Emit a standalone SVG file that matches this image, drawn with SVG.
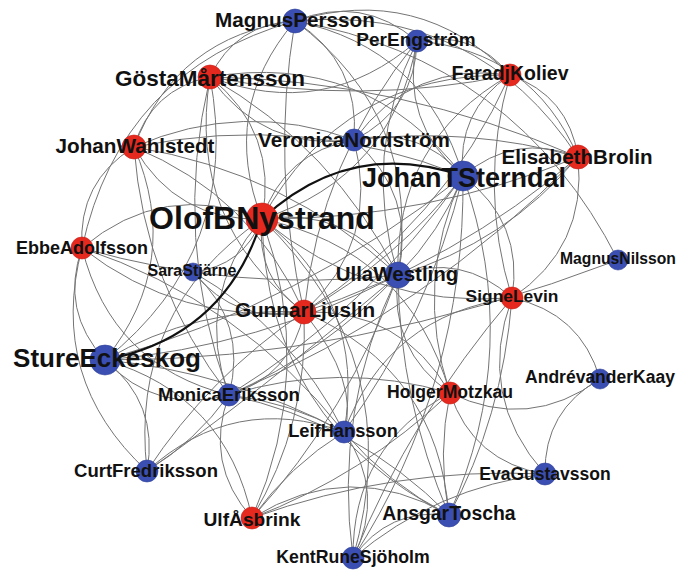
<svg xmlns="http://www.w3.org/2000/svg" width="678" height="570" viewBox="0 0 678 570">
<style>
.e{fill:none;stroke:#747474;stroke-width:1}
.tk{fill:none;stroke:#111;stroke-width:2.2}
.r{fill:#e6291f;stroke:#c81e16;stroke-width:0.6}
.b{fill:#3b4fb3;stroke:#2d3f98;stroke-width:0.6}
text{font-family:"Liberation Sans",Arial,sans-serif;font-weight:bold;fill:#111;text-anchor:middle}
</style>
<rect width="678" height="570" fill="#fff"/>
<g id="edges">
<path class="e" d="M262,219 Q219.1,110.1 295,21"/>
<path class="e" d="M262,219 Q278.6,132.4 210,77"/>
<path class="e" d="M262,219 Q176.4,221.4 134,147"/>
<path class="e" d="M262,219 Q284.3,151.9 354,140"/>
<path class="e" d="M262,219 Q392.9,176.5 417,41"/>
<path class="e" d="M262,219 Q342.8,72.6 510,75"/>
<path class="e" d="M262,219 Q426.2,219.6 578,157"/>
<path class="e" d="M262,219 Q346.8,206.2 398,275"/>
<path class="e" d="M262,219 Q255.1,278.1 304,312"/>
<path class="e" d="M262,219 Q371.2,308.5 512,298"/>
<path class="e" d="M262,219 Q408.2,249.6 450,393"/>
<path class="e" d="M262,219 Q366.9,300.9 344,432"/>
<path class="e" d="M262,219 Q192.7,297.1 229,395"/>
<path class="e" d="M262,219 Q316.8,370.5 252,518"/>
<path class="e" d="M262,219 Q266.7,423.1 449,515"/>
<path class="e" d="M262,219 Q409.2,361.2 353,558"/>
<path class="e" d="M262,219 Q243.4,266.2 193,272"/>
<path class="e" d="M262,219 Q163.3,179.5 82,248"/>
<path class="e" d="M262,219 Q128.9,310.5 147,471"/>
<path class="e" d="M463,176 Q425.5,48.1 295,21"/>
<path class="e" d="M463,176 Q399.5,122.3 417,41"/>
<path class="e" d="M463,176 Q456.2,111.4 510,75"/>
<path class="e" d="M463,176 Q514.8,132 578,157"/>
<path class="e" d="M463,176 Q419.3,125.3 354,140"/>
<path class="e" d="M463,176 Q366.2,50.6 210,77"/>
<path class="e" d="M463,176 Q302.8,112.2 134,147"/>
<path class="e" d="M463,176 Q440.4,232 398,275"/>
<path class="e" d="M463,176 Q397.1,259.9 304,312"/>
<path class="e" d="M463,176 Q367.9,308.9 229,395"/>
<path class="e" d="M463,176 Q302.4,303.8 105,360"/>
<path class="e" d="M463,176 Q524.1,222.3 512,298"/>
<path class="e" d="M463,176 Q523.8,348.3 449,515"/>
<path class="e" d="M463,176 Q465.3,383.5 353,558"/>
<path class="e" d="M463,176 Q413.1,281.9 450,393"/>
<path class="e" d="M463,176 Q429.1,315.9 344,432"/>
<path class="e" d="M295,21 Q235.7,23.5 210,77"/>
<path class="e" d="M295,21 Q176.7,35.7 134,147"/>
<path class="e" d="M295,21 Q360.2,62.8 354,140"/>
<path class="e" d="M295,21 Q362,-5.6 417,41"/>
<path class="e" d="M295,21 Q418.7,-16.5 510,75"/>
<path class="e" d="M295,21 Q477.3,4.1 578,157"/>
<path class="e" d="M295,21 Q422.7,117.1 398,275"/>
<path class="e" d="M295,21 Q120.4,70.6 82,248"/>
<path class="e" d="M295,21 Q516.3,59.8 618,260"/>
<path class="e" d="M295,21 Q270.4,167.4 304,312"/>
<path class="e" d="M417,41 Q324.3,121.1 210,77"/>
<path class="e" d="M417,41 Q473.7,30.1 510,75"/>
<path class="e" d="M417,41 Q532.3,50.7 578,157"/>
<path class="e" d="M417,41 Q415.2,109.4 354,140"/>
<path class="e" d="M417,41 Q360.7,154.2 398,275"/>
<path class="e" d="M417,41 Q319.9,159.6 304,312"/>
<path class="e" d="M210,77 Q359.8,106 510,75"/>
<path class="e" d="M210,77 Q402,80.2 578,157"/>
<path class="e" d="M210,77 Q263.1,151.7 354,140"/>
<path class="e" d="M210,77 Q151,89.2 134,147"/>
<path class="e" d="M210,77 Q186.5,222.7 304,312"/>
<path class="e" d="M210,77 Q242.4,250 105,360"/>
<path class="e" d="M210,77 Q333.7,147.8 398,275"/>
<path class="e" d="M210,77 Q171.8,238.9 229,395"/>
<path class="e" d="M510,75 Q568.6,95.6 578,157"/>
<path class="e" d="M510,75 Q412.5,60.7 354,140"/>
<path class="e" d="M510,75 Q394,141.4 398,275"/>
<path class="e" d="M510,75 Q442.6,224.4 304,312"/>
<path class="e" d="M510,75 Q477.6,186.8 512,298"/>
<path class="e" d="M578,157 Q467.7,126.1 354,140"/>
<path class="e" d="M578,157 Q587.3,247.3 512,298"/>
<path class="e" d="M578,157 Q505.7,243 398,275"/>
<path class="e" d="M578,157 Q456.5,261.9 304,312"/>
<path class="e" d="M578,157 Q427.3,310.9 229,395"/>
<path class="e" d="M134,147 Q242.6,99.5 354,140"/>
<path class="e" d="M134,147 Q77.7,181.9 82,248"/>
<path class="e" d="M134,147 Q252,195.5 304,312"/>
<path class="e" d="M134,147 Q183.4,262.2 105,360"/>
<path class="e" d="M134,147 Q285.2,171.4 398,275"/>
<path class="e" d="M134,147 Q144.3,285.3 229,395"/>
<path class="e" d="M82,248 Q59.9,310.9 105,360"/>
<path class="e" d="M82,248 Q47.6,379 147,471"/>
<path class="e" d="M82,248 Q111.4,365.6 229,395"/>
<path class="e" d="M82,248 Q237.3,293.1 398,275"/>
<path class="e" d="M82,248 Q180.2,324.4 304,312"/>
<path class="e" d="M82,248 Q240.6,300.7 344,432"/>
<path class="e" d="M105,360 Q156.5,414.7 229,395"/>
<path class="e" d="M105,360 Q231.7,372.1 344,432"/>
<path class="e" d="M105,360 Q159.3,402.9 147,471"/>
<path class="e" d="M105,360 Q197.3,306.2 304,312"/>
<path class="e" d="M105,360 Q260,346.8 398,275"/>
<path class="e" d="M105,360 Q225.9,394.9 252,518"/>
<path class="e" d="M105,360 Q351.5,361.3 618,260"/>
<path class="e" d="M193,272 Q236.5,325.3 304,312"/>
<path class="e" d="M193,272 Q292.5,329.4 344,432"/>
<path class="e" d="M193,272 Q247.9,322.7 229,395"/>
<path class="e" d="M229,395 Q195.6,441.2 147,471"/>
<path class="e" d="M229,395 Q203.6,463.4 252,518"/>
<path class="e" d="M229,395 Q290.2,402 344,432"/>
<path class="e" d="M229,395 Q291.4,376 304,312"/>
<path class="e" d="M229,395 Q339.2,360.9 450,393"/>
<path class="e" d="M147,471 Q233.8,392.4 344,432"/>
<path class="e" d="M147,471 Q252.9,398.1 398,275"/>
<path class="e" d="M147,471 Q209.6,375.8 304,312"/>
<path class="e" d="M252,518 Q308.9,422.8 304,312"/>
<path class="e" d="M252,518 Q289.4,465.8 344,432"/>
<path class="e" d="M252,518 Q349.6,457.4 449,515"/>
<path class="e" d="M252,518 Q363.5,475.3 450,393"/>
<path class="e" d="M252,518 Q394.1,466.7 545,474"/>
<path class="e" d="M344,432 Q360,384 304,312"/>
<path class="e" d="M344,432 Q386.3,492.3 353,558"/>
<path class="e" d="M344,432 Q388.2,484 449,515"/>
<path class="e" d="M449,515 Q437.3,453.9 450,393"/>
<path class="e" d="M449,515 Q388.1,507.7 353,558"/>
<path class="e" d="M449,515 Q502.2,419.1 512,298"/>
<path class="e" d="M449,515 Q437.4,370 304,312"/>
<path class="e" d="M449,515 Q357,422 229,395"/>
<path class="e" d="M353,558 Q436.4,487.2 545,474"/>
<path class="e" d="M353,558 Q352,446.4 450,393"/>
<path class="e" d="M353,558 Q411.7,415.3 512,298"/>
<path class="e" d="M353,558 Q333,409.8 398,275"/>
<path class="e" d="M600,379 Q529,431.5 450,393"/>
<path class="e" d="M545,474 Q473,462 450,393"/>
<path class="e" d="M512,298 Q580.6,312.6 600,379"/>
<path class="e" d="M545,474 Q475.7,395.9 512,298"/>
<path class="e" d="M545,474 Q544,410.5 600,379"/>
<path class="e" d="M398,275 Q461.9,252.3 512,298"/>
<path class="e" d="M512,298 Q387.8,314.6 344,432"/>
<path class="e" d="M450,393 Q401.3,308.7 304,312"/>
<path class="e" d="M450,393 Q388.6,349.6 398,275"/>
<path class="e" d="M354,140 Q416.5,194.3 398,275"/>
<path class="e" d="M354,140 Q380.6,241 304,312"/>
<path class="e" d="M398,275 Q325.5,351.9 229,395"/>
<path class="e" d="M398,275 Q349.3,411.1 252,518"/>
<path class="e" d="M398,275 Q399.5,400.1 449,515"/>
<path class="tk" d="M262,219 Q349.6,137.2 463,176"/>
<path class="tk" d="M262,219 Q225.8,336.6 105,360"/>
</g>
<g id="n-MagnusPersson"><circle class="b" cx="295" cy="21" r="12"/><text x="295" y="27" font-size="20.7">MagnusPersson</text></g>
<g id="n-PerEngstrom"><circle class="b" cx="417" cy="41" r="11"/><text x="416" y="46" font-size="19">PerEngström</text></g>
<g id="n-GostaMartensson"><circle class="r" cx="210" cy="77" r="12"/><text x="210" y="86" font-size="22.5">GöstaMårtensson</text></g>
<g id="n-FaradjKoliev"><circle class="r" cx="510" cy="75" r="11"/><text x="510" y="80" font-size="19.5">FaradjKoliev</text></g>
<g id="n-JohanWahlstedt"><circle class="r" cx="134" cy="147" r="12"/><text x="135" y="153" font-size="20.7">JohanWahlstedt</text></g>
<g id="n-VeronicaNordstrom"><circle class="b" cx="354" cy="140" r="11"/><text x="354" y="147" font-size="20.7">VeronicaNordström</text></g>
<g id="n-ElisabethBrolin"><circle class="r" cx="578" cy="157" r="12"/><text x="577" y="163.5" font-size="20.6">ElisabethBrolin</text></g>
<g id="n-JohanTSterndal"><circle class="b" cx="463" cy="176" r="15"/><text x="464" y="187" font-size="27">JohanTSterndal</text></g>
<g id="n-OlofBNystrand"><circle class="r" cx="262" cy="219" r="16"/><text x="262" y="229" font-size="32">OlofBNystrand</text></g>
<g id="n-EbbeAdolfsson"><circle class="r" cx="82" cy="248" r="11"/><text x="82" y="254" font-size="18">EbbeAdolfsson</text></g>
<g id="n-SaraStjarne"><circle class="b" cx="193" cy="272" r="9"/><text x="192" y="276" font-size="16">SaraStjärne</text></g>
<g id="n-UllaWestling"><circle class="b" cx="398" cy="275" r="13"/><text x="397" y="281" font-size="20.5">UllaWestling</text></g>
<g id="n-MagnusNilsson"><circle class="b" cx="618" cy="260" r="10"/><text x="618" y="264" font-size="15.7">MagnusNilsson</text></g>
<g id="n-SigneLevin"><circle class="r" cx="512" cy="298" r="11"/><text x="512" y="302" font-size="17.4">SigneLevin</text></g>
<g id="n-GunnarLjuslin"><circle class="r" cx="304" cy="312" r="12"/><text x="305" y="317" font-size="20.7">GunnarLjuslin</text></g>
<g id="n-StureEckeskog"><circle class="b" cx="105" cy="360" r="15"/><text x="107" y="367" font-size="26">StureEckeskog</text></g>
<g id="n-AndrevanderKaay"><circle class="b" cx="600" cy="379" r="10"/><text x="600" y="383" font-size="17.5">AndrévanderKaay</text></g>
<g id="n-MonicaEriksson"><circle class="b" cx="229" cy="395" r="11"/><text x="229" y="401" font-size="18.5">MonicaEriksson</text></g>
<g id="n-HolgerMotzkau"><circle class="r" cx="450" cy="393" r="11"/><text x="450" y="398" font-size="17.6">HolgerMotzkau</text></g>
<g id="n-LeifHansson"><circle class="b" cx="344" cy="432" r="11"/><text x="343" y="437" font-size="18.3">LeifHansson</text></g>
<g id="n-CurtFredriksson"><circle class="b" cx="147" cy="471" r="11"/><text x="146" y="477" font-size="18.5">CurtFredriksson</text></g>
<g id="n-EvaGustavsson"><circle class="b" cx="545" cy="474" r="11"/><text x="545" y="480" font-size="17.5">EvaGustavsson</text></g>
<g id="n-AnsgarToscha"><circle class="b" cx="449" cy="515" r="12"/><text x="449" y="520" font-size="19.4">AnsgarToscha</text></g>
<g id="n-UlfAsbrink"><circle class="r" cx="252" cy="518" r="11"/><text x="252" y="526" font-size="19.2">UlfÅsbrink</text></g>
<g id="n-KentRuneSjoholm"><circle class="b" cx="353" cy="558" r="11"/><text x="353" y="563" font-size="17.7">KentRuneSjöholm</text></g>
</svg>
